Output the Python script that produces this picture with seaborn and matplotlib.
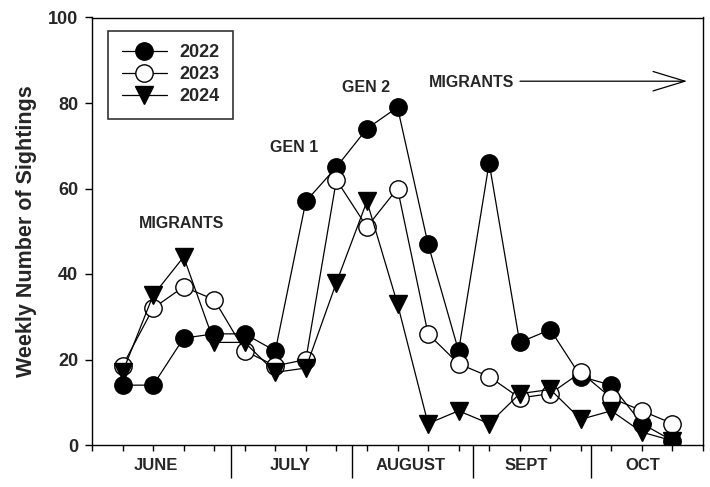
import numpy as np
import pandas as pd
import matplotlib
matplotlib.use("Agg")
import matplotlib.pyplot as plt
import seaborn as sns

# ---- data ----
weeks = list(range(19))
y2022 = [14, 14, 25, 26, 26, 22, 57, 65, 74, 79, 47, 22, 66, 24, 27, 16, 14, 5, 1]
y2023 = [18.5, 32, 37, 34, 22, 18.5, 20, 62, 51, 60, 26, 19, 16, 11, 12, 17, 11, 8, 5]
y2024 = [17, 35, 44, 24, 24, 17, 18, 38, 57, 33, 5, 8, 5, 12, 13, 6, 8, 3, 1]
years = ["2022", "2023", "2024"]
months = ["JUNE", "JULY", "AUGUST", "SEPT", "OCT"]
month_pos = [1.08, 5.48, 9.44, 13.2, 17.04]
month_bounds = [3.55, 7.5, 11.46, 15.35]
yticks = [0, 20, 40, 60, 80, 100]

sns.set_style("white")
plt.rcParams["font.family"] = ["Liberation Sans", "DejaVu Sans"]
plt.rcParams["font.weight"] = "bold"

fig = plt.figure(figsize=(7.1, 4.87), dpi=100)
ax = fig.add_axes([92 / 710, 1 - 445 / 487, (703 - 92) / 710, (445 - 17.5) / 487])

df = pd.DataFrame({"week": weeks * 3,
                   "count": y2022 + y2023 + y2024,
                   "year": sum([[y] * len(weeks) for y in years], [])})

styles = {
    "2022": dict(marker="o", markerfacecolor="black", markersize=12.5),
    "2023": dict(marker="o", markerfacecolor="white", markersize=12.5),
    "2024": dict(marker="v", markerfacecolor="black", markersize=13.5),
}
for yr in years:
    sub = df[df["year"] == yr]
    sns.lineplot(data=sub, x="week", y="count", ax=ax, color="black",
                 linewidth=0.9, markeredgecolor="black", markeredgewidth=1.0,
                 label=yr, **styles[yr])

ax.set_xlim(-1, 19)
ax.set_ylim(0, 100)
ax.set_yticks(yticks)
ax.set_yticklabels([str(v) for v in yticks], fontsize=13, fontweight="bold")
ax.set_ylabel("Weekly Number of Sightings", fontsize=15.5, fontweight="bold", labelpad=8)
ax.set_xlabel("")

# x axis: week minor ticks, month separator major ticks
ax.set_xticks(month_bounds)
ax.set_xticklabels([])
ax.set_xticks(list(range(-1, 20)), minor=True)
ax.tick_params(axis="x", which="major", bottom=True, direction="out", length=24, width=1.0, color="black")
ax.tick_params(axis="x", which="minor", bottom=True, direction="out", length=4, width=1.0, color="black")
ax.tick_params(axis="y", which="major", left=True, direction="out", length=5, width=1.0, color="black", pad=5)
for sp in ax.spines.values():
    sp.set_color("black")
    sp.set_linewidth(1.0)

trans = matplotlib.transforms.blended_transform_factory(ax.transData, ax.transAxes)
for m, p in zip(months, month_pos):
    ax.text(p, -0.047, m, transform=trans, ha="center", va="center",
            fontsize=12, fontweight="bold",
            family=["Liberation Sans Narrow", "Liberation Sans", "DejaVu Sans"],
            clip_on=False)

# annotations
ax.text(1.93, 51.9, "MIGRANTS", ha="center", va="center", fontsize=11.5, fontweight="bold")
ax.text(5.61, 69.5, "GEN 1", ha="center", va="center", fontsize=11.5, fontweight="bold")
ax.text(7.97, 83.7, "GEN 2", ha="center", va="center", fontsize=11.5, fontweight="bold")
ax.text(11.42, 84.9, "MIGRANTS", ha="center", va="center", fontsize=11.5, fontweight="bold")
ax.annotate("", xy=(18.48, 85.1), xytext=(13.01, 85.1),
            arrowprops=dict(arrowstyle="->,head_length=2.3,head_width=0.7",
                            color="black", lw=0.9, shrinkA=0, shrinkB=0))

leg = ax.legend(loc="upper left", bbox_to_anchor=(108.3 / 710, 1 - 30.7 / 487),
                bbox_transform=fig.transFigure, borderaxespad=0,
                fancybox=False, frameon=True, edgecolor="black",
                prop={"size": 13, "weight": "bold"},
                handlelength=2.5, handletextpad=0.66, labelspacing=0.28,
                borderpad=0.75)
leg.get_frame().set_linewidth(1.2)

fig.savefig("out.png", dpi=100)
